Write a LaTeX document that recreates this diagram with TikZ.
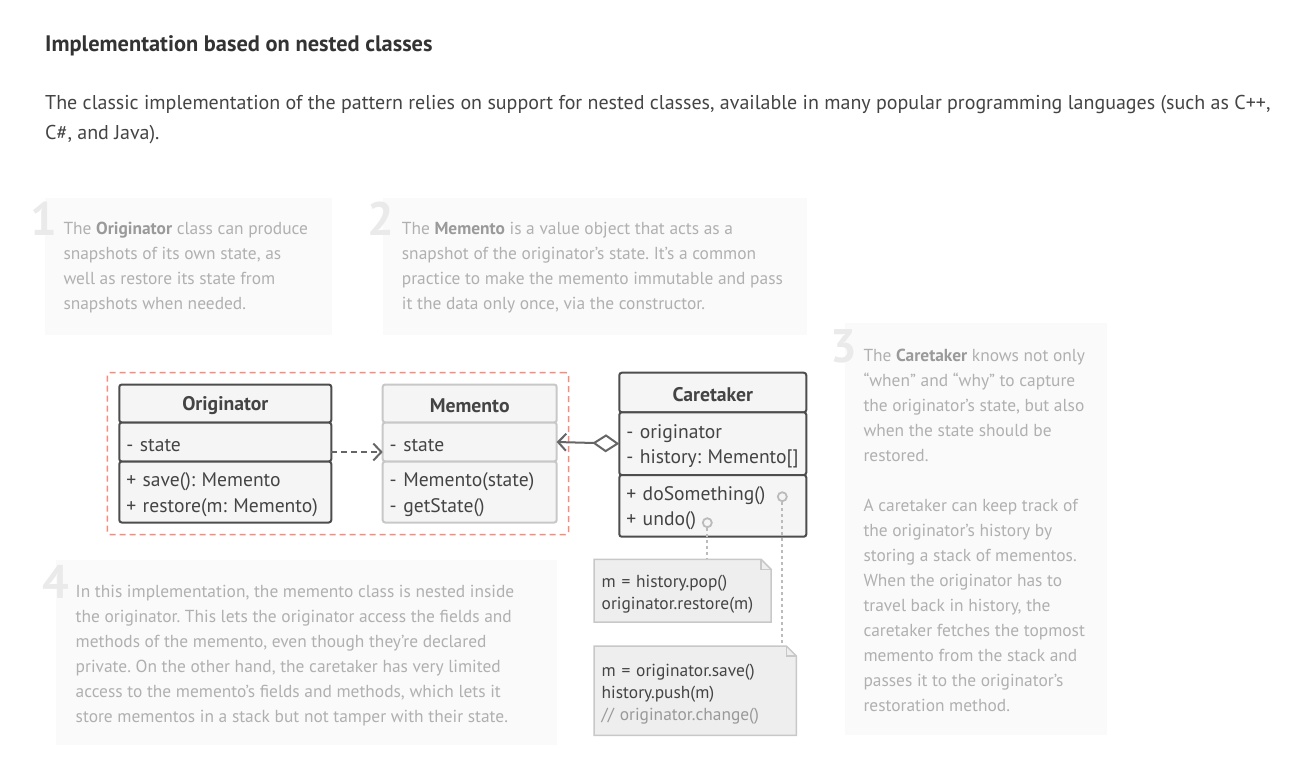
\documentclass[tikz,border=0pt]{standalone}
\usepackage{fontspec}
\setmainfont{PT Sans}
\frenchspacing
\usetikzlibrary{positioning, fit, arrows.meta}

\definecolor{headtxt}{HTML}{333333}
\definecolor{bodytxt}{HTML}{444444}
\definecolor{calloutbg}{HTML}{FAFAFA}
\definecolor{callouttxt}{HTML}{B0B0B0}
\definecolor{calloutbold}{HTML}{9A9A9A}
\definecolor{numgray}{HTML}{EAEAEA}
\definecolor{classbg}{HTML}{F5F5F5}
\definecolor{darkline}{HTML}{4D4D4D}
\definecolor{lightline}{HTML}{C8C8C8}
\definecolor{notebg}{HTML}{EEEEEE}
\definecolor{nestred}{HTML}{F98B7C}
\definecolor{wiregray}{HTML}{666666}
\definecolor{dotgray}{HTML}{BBBBBB}
\definecolor{commentgray}{HTML}{999999}

\newcommand{\clsname}[1]{\textcolor{calloutbold}{\bfseries #1}}

\tikzset{
    callout/.style={anchor=north west, fill=calloutbg, draw=none, inner sep=0pt},
    callouttext/.style={anchor=north west, inner sep=0pt, text=callouttxt, align=left, font=\fontsize{17.4}{25}\selectfont},
    bignum/.style={anchor=base east, inner sep=0pt, text=numgray, font=\fontsize{47}{47}\selectfont\bfseries},
    classhead/.style={draw=#1, fill=classbg, line width=2pt, rounded corners=2.5pt, inner sep=0pt, outer sep=0pt, text=bodytxt, font=\fontsize{19.7}{20}\selectfont\bfseries, execute at begin node={\rule{0pt}{18pt}}},
    classpart/.style={draw=#1, fill=classbg, line width=2pt, rounded corners=2.5pt, inner xsep=7pt, inner ysep=0pt, outer sep=0pt, align=left, text=bodytxt, font=\fontsize{19.6}{25.5}\selectfont, execute at begin node={\rule{0pt}{19pt}}},
    notebox/.style={anchor=north west, inner xsep=7.5pt, inner ysep=0pt, align=left, text=bodytxt, font=\fontsize{17.4}{22}\selectfont},
    noteline/.style={fill=notebg, draw=lightline, line width=1.5pt},
    wire/.style={draw=wiregray, line width=2pt},
    dotline/.style={draw=dotgray, line width=2pt, dash pattern=on 3pt off 3pt},
    markcirc/.style={circle, draw=dotgray, line width=1.8pt, minimum size=9pt, inner sep=0pt}
}

\begin{document}
\begin{tikzpicture}[x=1pt, y=-1pt]
    \useasboundingbox[fill=white] (0,0) rectangle (1297,772);

    \node[anchor=base west, inner sep=0pt, text=headtxt, font=\fontsize{22.4}{26}\selectfont\bfseries] (title) at (45,51) {Implementation based on nested classes};
    \node[anchor=north west, inner sep=0pt, text=bodytxt, align=left, font=\fontsize{20}{30}\selectfont] (intro) at (45,95) {The classic implementation of the pattern relies on support for nested classes, available in many popular programming languages (such as C++,\\C\#, and Java).};

    % callouts
    \node[callout, minimum width=287, minimum height=137] (box1) at (45,197.3) {};
    \node[callout, minimum width=424, minimum height=137] (box2) at (382.7,197.3) {};
    \node[callout, minimum width=262, minimum height=412] (box3) at (845,322.7) {};
    \node[callout, minimum width=501, minimum height=185] (box4) at (56,560) {};

    \node[bignum] (num1) at (57,235) {1};
    \node[bignum] (num2) at (394,235) {2};
    \node[bignum] (num3) at (857,362) {3};
    \node[bignum] (num4) at (69,598) {4};

    \node[callouttext] (text1) at (63.3,222) {The \clsname{Originator} class can produce\\snapshots of its own state, as\\well as restore its state from\\snapshots when needed.};
    \node[callouttext] (text2) at (401.7,222) {The \clsname{Memento} is a value object that acts as a\\snapshot of the originator’s state. It’s a common\\practice to make the memento immutable and pass\\it the data only once, via the constructor.};
    \node[callouttext] (text3) at (863.3,349) {The \clsname{Caretaker} knows not only\\“when” and “why” to capture\\the originator’s state, but also\\when the state should be\\restored.\\[25pt]A caretaker can keep track of\\the originator’s history by\\storing a stack of mementos.\\When the originator has to\\travel back in history, the\\caretaker fetches the topmost\\memento from the stack and\\passes it to the originator’s\\restoration method.};
    \node[callouttext] (text4) at (75.5,585) {In this implementation, the memento class is nested inside\\the originator. This lets the originator access the fields and\\methods of the memento, even though they’re declared\\private. On the other hand, the caretaker has very limited\\access to the memento’s fields and methods, which lets it\\store mementos in a stack but not tamper with their state.};

    % classes
    \node[classhead=darkline, anchor=north west, minimum width=212, minimum height=38] (orig) at (119.3,384.5) {Originator};
    \node[classpart=darkline, below=0pt, text width=198, minimum height=39] (origattr) at (orig.south) {- state};
    \node[classpart=darkline, below=0pt, text width=198, minimum height=61] (origops) at (origattr.south) {+ save(): Memento\\+ restore(m: Memento)};

    \node[classhead=lightline, anchor=north west, minimum width=174, minimum height=38] (mem) at (382.7,384.5) {Memento};
    \node[classpart=lightline, below=0pt, text width=160, minimum height=39] (memattr) at (mem.south) {- state};
    \node[classpart=lightline, below=0pt, text width=160, minimum height=61] (memops) at (memattr.south) {- Memento(state)\\- getState()};

    \node[classhead=darkline, anchor=north west, minimum width=187, minimum height=39.6] (care) at (619.3,372.7) {Caretaker};
    \node[classpart=darkline, below=0pt, text width=173, minimum height=62.7] (careattr) at (care.south) {- originator\\- history: Memento[]};
    \node[classpart=darkline, below=0pt, text width=173, minimum height=61.7] (careops) at (careattr.south) {+ doSomething()\\+ undo()};

    \node[draw=nestred, line width=1.5pt, dash pattern=on 6pt off 4pt, rounded corners=3pt, inner sep=12pt, outer sep=0pt, fit=(orig) (memops)] (nested) {};

    \node[markcirc] (domark) at (782.3,496.7) {};
    \node[markcirc] (undomark) at (707.3,522.7) {};

    % notes
    \node[notebox, minimum width=176.7, minimum height=62.4, text width=161.7] (popnote) at (594,559.3) {};
    \filldraw[noteline] (popnote.south west) -- (popnote.north west) -- ([xshift=-10pt]popnote.north east) -- ([yshift=-10pt]popnote.north east) -- (popnote.south east) -- cycle;
    \draw[noteline, fill=none] ([xshift=-10pt]popnote.north east) |- ([yshift=-10pt]popnote.north east);
    \node[notebox, minimum width=176.7, minimum height=62.4, text width=161.7] (poptext) at (594,559.3) {\rule{0pt}{20pt}m = history.pop()\\originator.restore(m)};

    \node[notebox, minimum width=202, minimum height=89, text width=187] (savenote) at (594,646) {};
    \filldraw[noteline] (savenote.south west) -- (savenote.north west) -- ([xshift=-10pt]savenote.north east) -- ([yshift=-10pt]savenote.north east) -- (savenote.south east) -- cycle;
    \draw[noteline, fill=none] ([xshift=-10pt]savenote.north east) |- ([yshift=-10pt]savenote.north east);
    \node[notebox, minimum width=202, minimum height=89, text width=187] (savetext) at (594,646) {\rule{0pt}{20pt}m = originator.save()\\history.push(m)\\\textcolor{commentgray}{// originator.change()}};

    \draw[dotline] (undomark) -- (undomark |- popnote.north);
    \draw[dotline] (domark) -- (domark |- savenote.north);

    \draw[wire, dash pattern=on 6pt off 4pt, -{Straight Barb[length=8pt, width=17pt]}] ([yshift=-10pt]origattr.east) -- ([yshift=-10pt]memattr.west);
    \draw[wire, {Diamond[open, length=27pt, width=18pt]}-{Straight Barb[length=8pt, width=17pt]}] (careattr.west) -- (memattr.east);
\end{tikzpicture}
\end{document}
